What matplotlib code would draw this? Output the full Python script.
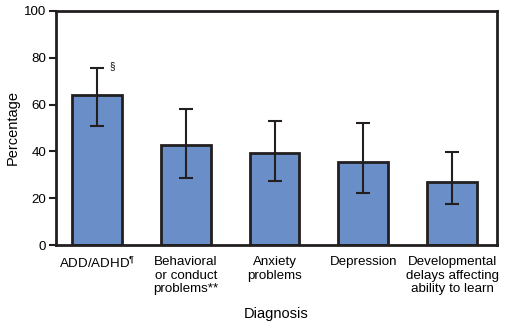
import numpy as np
import matplotlib
matplotlib.use("Agg")
import matplotlib.pyplot as plt

plt.rcParams['font.family'] = ['Liberation Sans', 'DejaVu Sans']
plt.rcParams['mathtext.fontset'] = 'custom'
plt.rcParams['mathtext.rm'] = 'Liberation Sans'

# data
categories = ["ADD/ADHD$^{\\P}$", "Behavioral\nor conduct\nproblems**", "Anxiety\nproblems",
              "Depression", "Developmental\ndelays affecting\nability to learn"]
pct = [63.9, 42.8, 39.4, 35.6, 27.0]
ci_low = [50.9, 28.6, 27.2, 22.2, 17.7]
ci_high = [75.4, 58.2, 53.0, 52.1, 39.9]
yticks = [0, 20, 40, 60, 80, 100]

x = np.arange(len(categories))
pct = np.array(pct)
err = np.vstack((pct - np.array(ci_low), np.array(ci_high) - pct))

fig = plt.figure(figsize=(5.14, 3.29), dpi=100)
ax = fig.add_axes([0.109, 0.255, 0.858, 0.712])

ax.bar(x, pct, width=0.56, color='#6a8fc8', edgecolor='#231f20', linewidth=2, zorder=2)
ax.errorbar(x, pct, yerr=err, fmt='none', ecolor='#231f20', elinewidth=1.5,
            capsize=5, capthick=1.5, zorder=3)

ax.text(x[0] + 0.17, ci_high[0] + 1, "§", fontsize=7, ha='center', va='center')

ax.set_xlim(-0.462, 4.507)
ax.set_ylim(0, 100)
ax.set_yticks(yticks)
ax.set_xticks(x)
ax.set_xticklabels(categories, fontsize=9.6, linespacing=1.15, va='top')
ax.tick_params(axis='x', length=0, pad=8)
ax.tick_params(axis='y', length=5, width=1.5, labelsize=9.6, pad=2, color='#231f20')
for s in ax.spines.values():
    s.set_linewidth(2)
    s.set_color('#231f20')

ax.set_ylabel("Percentage", fontsize=10.5, labelpad=3)
ax.set_xlabel("Diagnosis", fontsize=10.5, labelpad=9)

fig.savefig("out.png", dpi=100)
